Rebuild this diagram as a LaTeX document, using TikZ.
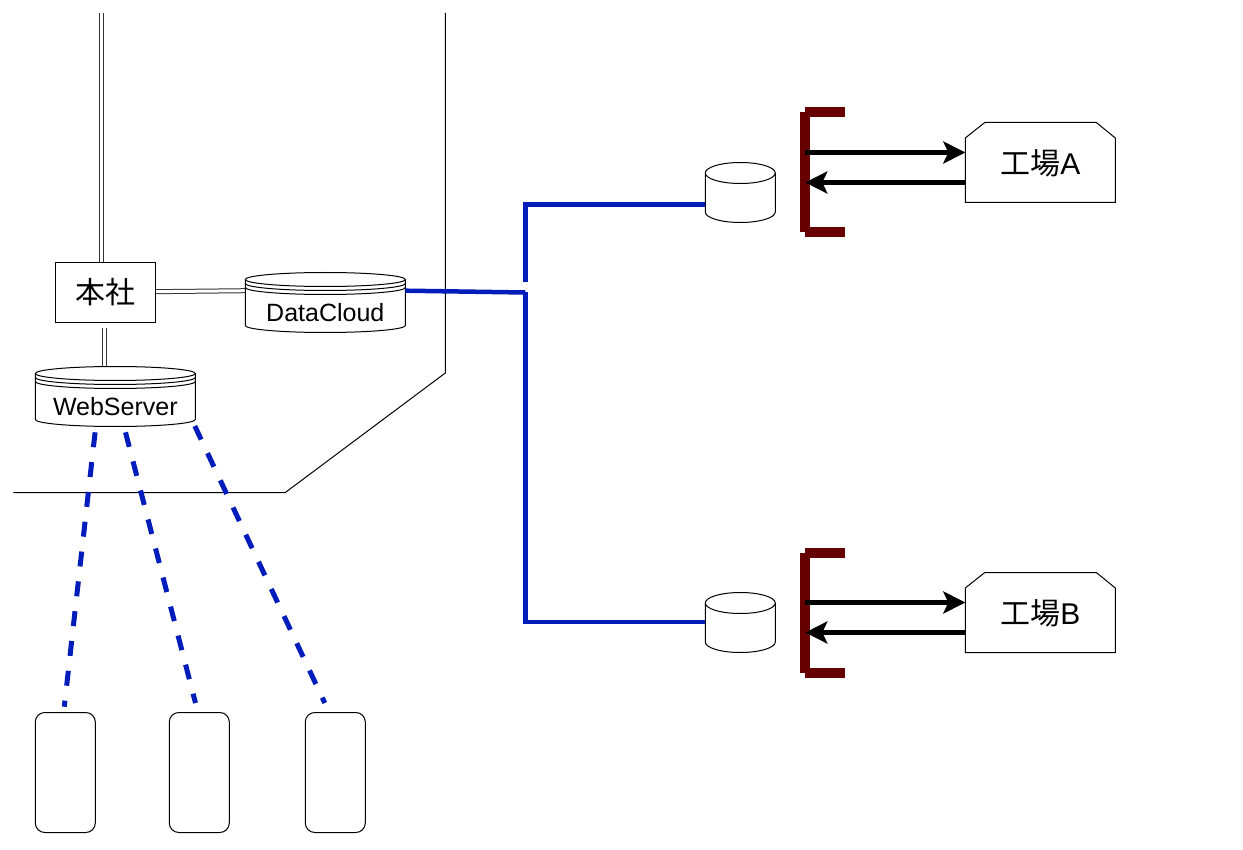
\documentclass[tikz,border=0pt]{standalone}
\usepackage{fontspec}
\setmainfont{Liberation Sans}
\newfontfamily\cjkfont{Noto Sans CJK JP}
\usetikzlibrary{arrows.meta}
\definecolor{linkblue}{HTML}{001DBC}
\definecolor{brk}{HTML}{660000}
\tikzset{
  thin line/.style={draw=black,line width=1pt},
  box/.style={thin line,fill=white,minimum width=100pt,minimum height=60pt,inner sep=0pt,font=\fontsize{30}{34}\selectfont\cjkfont},
  anchorbox/.style={inner sep=0pt,outer sep=0pt,font=\fontsize{25}{29}\selectfont},
  dbl/.style={draw=black!80,line width=1pt,double=white,double distance=3pt},
  bluelink/.style={draw=linkblue,line width=4.5pt},
  bluedash/.style={draw=linkblue,line width=5pt,dash pattern=on 15pt off 15pt},
  bracketbar/.style={draw=brk,line width=10pt},
  flow/.style={draw=black,line width=5pt,-{Stealth[length=22pt,width=22pt,inset=5pt]}},
  phone/.style={thin line,fill=white,rounded corners=9.5pt,minimum width=60pt,minimum height=120pt,inner sep=0pt},
}
\newcommand{\cylshape}[9]{%
  \pgfmathsetmacro{\xr}{#2+#4}\pgfmathsetmacro{\xm}{#2+#4/2}
  \pgfmathsetmacro{\yc}{#3+#6}\pgfmathsetmacro{\ybs}{#3+#5-#6}
  \pgfmathsetmacro{\rxx}{#4/2}
  \filldraw[thin line,fill=white] (#2,\yc) arc[start angle=180,end angle=360,x radius=\rxx,y radius=#6]
     -- (\xr,\ybs) arc[start angle=0,end angle=180,x radius=\rxx,y radius=#6] -- cycle;
  \draw[thin line] (#2,\yc) arc[start angle=180,end angle=0,x radius=\rxx,y radius=#6];
  \foreach \k in {1,...,#7}{
    \pgfmathsetmacro{\yk}{\yc+4*\k}
    \draw[thin line] (#2,\yk) arc[start angle=180,end angle=0,x radius=\rxx,y radius=#6];
  }
  \node[anchorbox,minimum width=#4 pt,minimum height=#5 pt] (#1) at (\xm,{#3+#5/2}) {};
  \node[anchorbox] (#1text) at (\xm,#9) {#8};
}
\newcommand{\plaincyl}[3]{%
  \pgfmathsetmacro{\yc}{#3+10.5}\pgfmathsetmacro{\ybs}{#3+49.5}
  \filldraw[thin line,fill=white] (#2,\yc) arc[start angle=180,end angle=360,x radius=35,y radius=10.5]
     -- (#2+70,\ybs) arc[start angle=0,end angle=180,x radius=35,y radius=10.5] -- cycle;
  \draw[thin line] (#2,\yc) arc[start angle=180,end angle=0,x radius=35,y radius=10.5];
  \node[anchorbox,minimum width=70pt,minimum height=60pt] (#1) at (#2+35,#3+30) {};
}
\begin{document}
\begin{tikzpicture}[x=1pt,y=-1pt]
\useasboundingbox (0,0) rectangle (1243,850);
\fill[white] (0,0) rectangle (1243,850);
\begin{scope}[shift={(0.3,0.5)}]

\coordinate (ba) at (445,12.5);
\coordinate (bb) at (445,372.5);
\coordinate (bc) at (285,492);
\coordinate (bd) at (13,492);
\draw[thin line,line join=miter] (ba) -- (bb) -- (bc) -- (bd);

\coordinate (uplinktop) at (101,12.5);
\coordinate (hqtop) at (101,262);
\coordinate (hqbelow) at (104.5,328);
\coordinate (wstop) at (104.5,367);
\coordinate (hqright) at (155,291.2);
\coordinate (dcleft) at (245,290.2);
\coordinate (dcright) at (405,290.2);
\coordinate (junction) at (525,292);
\coordinate (upperstart) at (525,281.5);
\coordinate (upperbend) at (525,204);
\coordinate (lowerbend) at (525,621.5);
\coordinate (cylAleft) at (705,204);
\coordinate (cylBleft) at (705,621.5);

\draw[dbl] (uplinktop) -- (hqtop);
\draw[dbl] (hqbelow) -- (wstop);
\draw[dbl] (hqright) -- (dcleft);

\node[box] (hq) at (105,292) {本社};
\cylshape{dc}{245}{272}{160}{60}{7}{2}{DataCloud}{312.5}
\cylshape{ws}{35}{366}{160}{60}{7}{2}{WebServer}{406.5}
\plaincyl{cylA}{705}{162}
\plaincyl{cylB}{705}{592}

\draw[bluelink,line join=miter] (dcright) -- (junction);
\draw[bluelink,line join=miter] (junction) -- (lowerbend) -- (cylBleft);
\draw[bluelink,line join=miter] (upperstart) -- (upperbend) -- (cylAleft);

\node[phone] (p1) at (65,772) {};
\node[phone] (p2) at (199,772) {};
\node[phone] (p3) at (335,772) {};
\coordinate (w1) at (94.8,431.8);
\coordinate (w2) at (125.2,431.8);
\coordinate (w3) at (194.5,425.5);
\coordinate (p1t) at (64,706.2);
\coordinate (p2t) at (195.2,702.5);
\coordinate (p3t) at (324.5,702.5);
\draw[bluedash] (w1) -- (p1t);
\draw[bluedash] (w2) -- (p2t);
\draw[bluedash] (w3) -- (p3t);

\foreach \nm/\yy/\lbl in {A/122/A,B/572/B}{
  \node[inner sep=0pt,minimum width=150pt,minimum height=80pt] (f\nm) at (1040,\yy+40) {};
  \filldraw[thin line,fill=white] (965,\yy+15.5) -- (984.5,\yy) -- (1096,\yy) -- (1115,\yy+15.5) -- (1115,\yy+80) -- (965,\yy+80) -- cycle;
  \node[inner sep=0pt,font=\fontsize{30}{34}\selectfont] (t\nm) at (1040,\yy+40.5) {{\cjkfont 工場}\lbl};
}

\foreach \nm/\yy/\ya in {A/112/152,B/552/602}{
  \coordinate (br\nm a) at (845,\yy);
  \coordinate (br\nm b) at (805,\yy);
  \coordinate (br\nm c) at (805,\yy+120);
  \coordinate (br\nm d) at (845,\yy+120);
  \draw[bracketbar] (br\nm a) -- (br\nm b);
  \draw[bracketbar] (br\nm b) -- (br\nm c);
  \draw[bracketbar] (br\nm c) -- (br\nm d);
  \coordinate (out\nm) at (805,\ya);
  \coordinate (in\nm) at (965,\ya);
  \coordinate (back\nm) at (965,\ya+30);
  \coordinate (home\nm) at (805,\ya+30);
  \draw[flow] (out\nm) -- (in\nm);
  \draw[flow] (back\nm) -- (home\nm);
}
\end{scope}
\end{tikzpicture}
\end{document}
